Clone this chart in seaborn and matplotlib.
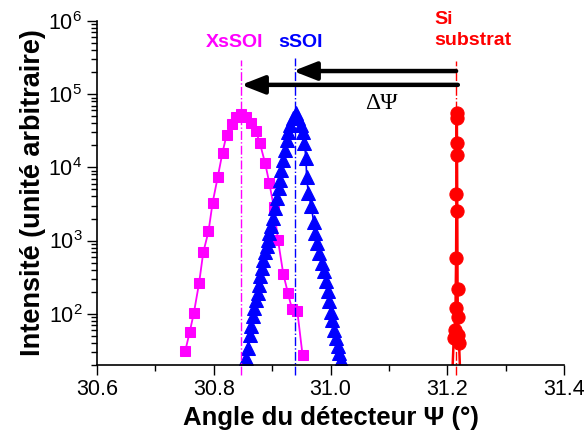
import numpy as np
import pandas as pd
import seaborn as sns
import matplotlib.pyplot as plt

# données
angle_xssoi = [30.751, 30.759, 30.766, 30.775, 30.782, 30.791, 30.798, 30.807, 30.815,
               30.822, 30.831, 30.838, 30.846, 30.855, 30.863, 30.872, 30.879, 30.888,
               30.895, 30.903, 30.910, 30.919, 30.927, 30.934, 30.943, 30.952]
int_xssoi = [30.5, 57, 103, 265, 687, 1330, 3270, 7490, 15900, 27800, 39300, 49400, 53700,
             49400, 40900, 31500, 21400, 11400, 6200, 2830, 1020, 352, 192, 116, 110, 27.5]

angle_ssoi = [30.855, 30.859, 30.862, 30.864, 30.867, 30.869, 30.872, 30.875, 30.877, 30.879,
              30.882, 30.885, 30.888, 30.891, 30.893, 30.895, 30.898, 30.901, 30.905, 30.908,
              30.911, 30.913, 30.916, 30.919, 30.922, 30.925, 30.928, 30.931, 30.935, 30.940,
              30.945, 30.949, 30.952, 30.955, 30.958, 30.959, 30.962, 30.967, 30.971, 30.973,
              30.976, 30.980, 30.985, 30.988, 30.992, 30.995, 30.997, 31.000, 31.003, 31.006,
              31.009, 31.012, 31.015, 31.018]
int_ssoi = [24.8, 34, 52, 67, 92, 120, 155, 195, 249, 323, 421, 546, 687, 830, 1020, 1260,
            1560, 2020, 2770, 3800, 5200, 6750, 9240, 12650, 17300, 23700, 30800, 38000, 47000,
            55000, 47000, 38000, 30800, 21400, 13400, 7490, 4440, 2920, 1820, 1260, 923, 674,
            492, 378, 276, 202, 147, 107, 83, 60.5, 46.6, 35.7, 29, 23.5]

angle_si = [31.2080, 31.2110, 31.2125, 31.2140, 31.2150, 31.2155, 31.2158, 31.2160, 31.2163,
            31.2166, 31.2170, 31.2175, 31.2180, 31.2190, 31.2200, 31.2225]
int_si = [12, 47, 60, 121, 582, 4350, 21600, 55500, 47000, 14800, 2550, 219, 91, 52, 40, 12]

pics = {"XsSOI": 30.847, "sSOI": 30.939, "Si": 31.215}

sns.set_style("ticks")
plt.rcParams['font.family'] = ['Liberation Sans', 'DejaVu Sans']
plt.rcParams.update({"text.color": "black", "axes.labelcolor": "black",
                     "xtick.color": "black", "ytick.color": "black"})

fig, ax = plt.subplots(figsize=(5.84, 4.37), dpi=100)
fig.subplots_adjust(left=0.166, right=0.966, bottom=0.165, top=0.952)

ax.set_yscale("log")

sns.lineplot(x=angle_xssoi, y=int_xssoi, color="#ff00ff", marker="s", markersize=7,
             markeredgecolor="#ff00ff", linewidth=1.3, sort=False, estimator=None, ax=ax)
sns.lineplot(x=angle_ssoi, y=int_ssoi, color="#0000ff", marker="^", markersize=9.5,
             markeredgecolor="#0000ff", linewidth=1.2, sort=False, estimator=None, ax=ax)
sns.lineplot(x=angle_si, y=int_si, color="#ff0000", marker="o", markersize=9.5,
             markeredgecolor="#ff0000", linewidth=1.8, sort=False, estimator=None, ax=ax)

# lignes verticales des pics
ax.vlines(pics["XsSOI"], 14.7, 2.9e5, colors="#ff00ff", linestyles="dashdot", linewidth=1, clip_on=False)
ax.vlines(pics["sSOI"], 14.7, 3.1e5, colors="#0000ff", linestyles="dashdot", linewidth=1, clip_on=False)
ax.vlines(pics["Si"], 14.7, 2.8e5, colors="#ff0000", linestyles="dashdot", linewidth=1, clip_on=False)

# flèches
arrow_kw = dict(arrowstyle="-|>,head_length=1.4,head_width=0.55", color="black", lw=3.2,
                shrinkA=0, shrinkB=0)
ax.annotate("", xy=(30.936, 2.07e5), xytext=(31.215, 2.07e5), arrowprops=arrow_kw)
ax.annotate("", xy=(30.847, 1.34e5), xytext=(31.218, 1.34e5), arrowprops=arrow_kw)
ax.text(31.087, 7.4e4, "ΔΨ", fontsize=17, family=["Liberation Serif"], ha="center", va="center")

# étiquettes
ax.text(30.836, 5.1e5, "XsSOI", color="#ff00ff", fontsize=14, fontweight="bold", ha="center", va="center")
ax.text(30.948, 5.1e5, "sSOI", color="#0000ff", fontsize=14, fontweight="bold", ha="center", va="center")
ax.text(31.178, 7.6e5, "Si\nsubstrat", color="#ff0000", fontsize=14, fontweight="bold",
        ha="left", va="center", linespacing=1.3)

ax.set_xlim(30.6, 31.4)
ax.set_ylim(20, 1e6)
ax.set_xticks([30.6, 30.8, 31.0, 31.2, 31.4])
ax.set_xticks(np.arange(30.7, 31.4, 0.2), minor=True)
ax.set_xticklabels(["30.6", "30.8", "31.0", "31.2", "31.4"])
ax.set_yticks([1e2, 1e3, 1e4, 1e5, 1e6])
ax.set_yticklabels([r"$\mathregular{10^{%d}}$" % k for k in range(2, 7)])

ax.tick_params(axis="both", which="major", direction="out", length=7, width=1, labelsize=15.5)
ax.tick_params(axis="both", which="minor", direction="out", length=4, width=1)
sns.despine(ax=ax)
for s in ["left", "bottom"]:
    ax.spines[s].set_linewidth(1.2)
    ax.spines[s].set_color("black")

ax.set_xlabel("Angle du détecteur Ψ (°)", fontsize=18.5, fontweight="bold", labelpad=4)
ax.set_ylabel("Intensité (unité arbitraire)", fontsize=19.5, fontweight="bold", labelpad=2)

plt.savefig("out.png", dpi=100)
